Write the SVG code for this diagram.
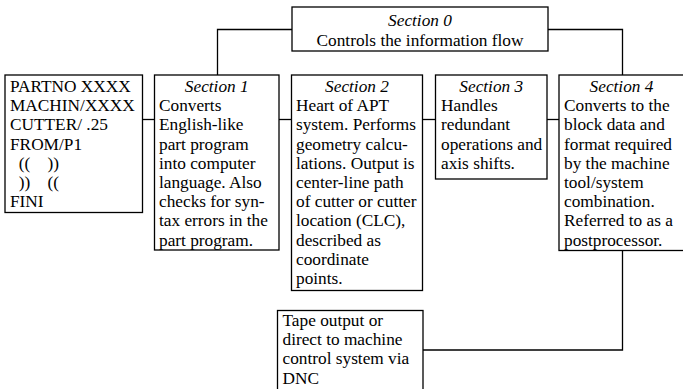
<svg xmlns="http://www.w3.org/2000/svg" width="683" height="389" viewBox="0 0 683 389">
<style>
rect.box{fill:#fff;stroke:#000;stroke-width:1.3}
.conn path{fill:none;stroke:#000;stroke-width:1.3}
text{font-family:"Liberation Serif","Times New Roman",serif;font-size:17.3px;fill:#000}
.t{font-style:italic;text-anchor:middle}
</style>
<rect width="683" height="389" fill="#fff"/>
<g class="conn" id="connectors">
<path d="M292,29.5 H217.5 V75"/>
<path d="M548,29.5 H622.5 V75"/>
<path d="M142.5,119.5 H154.5"/>
<path d="M279,119.5 H291.5"/>
<path d="M422.5,119.5 H435.5"/>
<path d="M547,119.5 H559"/>
<path d="M622.5,250.5 V350 H423"/>
</g>
<g id="section0">
<rect class="box" x="292" y="7" width="256" height="44"/>
<text class="t" x="420" y="25.5">Section 0</text>
<text x="420" y="45.5" text-anchor="middle">Controls the information flow</text>
</g>
<g id="program">
<rect class="box" x="5" y="75" width="137.5" height="137.5"/>
<text x="10" y="92">PARTNO XXXX</text>
<text x="10" y="111.2">MACHIN/XXXX</text>
<text x="10" y="130.4">CUTTER/ .25</text>
<text x="10" y="149.6">FROM/P1</text>
<text x="10" y="168.8" xml:space="preserve">  ((    ))</text>
<text x="10" y="188" xml:space="preserve">  ))    ((</text>
<text x="10" y="207.2">FINI</text>
</g>
<g id="section1">
<rect class="box" x="154.5" y="75" width="124.5" height="175"/>
<text class="t" x="216.75" y="92">Section 1</text>
<text x="159" y="111.2">Converts</text>
<text x="159" y="130.4">English-like</text>
<text x="159" y="149.6">part program</text>
<text x="159" y="168.8">into computer</text>
<text x="159" y="188">language. Also</text>
<text x="159" y="207.2">checks for syn-</text>
<text x="159" y="226.4">tax errors in the</text>
<text x="159" y="245.6">part program.</text>
</g>
<g id="section2">
<rect class="box" x="291.5" y="75" width="131" height="215.5"/>
<text class="t" x="357" y="92">Section 2</text>
<text x="296" y="111.2">Heart of APT</text>
<text x="296" y="130.4">system. Performs</text>
<text x="296" y="149.6">geometry calcu-</text>
<text x="296" y="168.8">lations. Output is</text>
<text x="296" y="188">center-line path</text>
<text x="296" y="207.2">of cutter or cutter</text>
<text x="296" y="226.4">location (CLC),</text>
<text x="296" y="245.6">described as</text>
<text x="296" y="264.8">coordinate</text>
<text x="296" y="284">points.</text>
</g>
<g id="section3">
<rect class="box" x="435.5" y="75" width="111.5" height="104"/>
<text class="t" x="491.25" y="92">Section 3</text>
<text x="441" y="111.2">Handles</text>
<text x="441" y="130.4">redundant</text>
<text x="441" y="149.6">operations and</text>
<text x="441" y="168.8">axis shifts.</text>
</g>
<g id="section4">
<rect class="box" x="559" y="75" width="140" height="175.5"/>
<text class="t" x="621.5" y="92">Section 4</text>
<text x="564" y="111.2">Converts to the</text>
<text x="564" y="130.4">block data and</text>
<text x="564" y="149.6">format required</text>
<text x="564" y="168.8">by the machine</text>
<text x="564" y="188">tool/system</text>
<text x="564" y="207.2">combination.</text>
<text x="564" y="226.4">Referred to as a</text>
<text x="564" y="245.6">postprocessor.</text>
</g>
<g id="output">
<rect class="box" x="277.5" y="310.5" width="145.5" height="90"/>
<text x="282.5" y="326">Tape output or</text>
<text x="282.5" y="345.2">direct to machine</text>
<text x="282.5" y="364.4">control system via</text>
<text x="282.5" y="383.6">DNC</text>
</g>
</svg>
